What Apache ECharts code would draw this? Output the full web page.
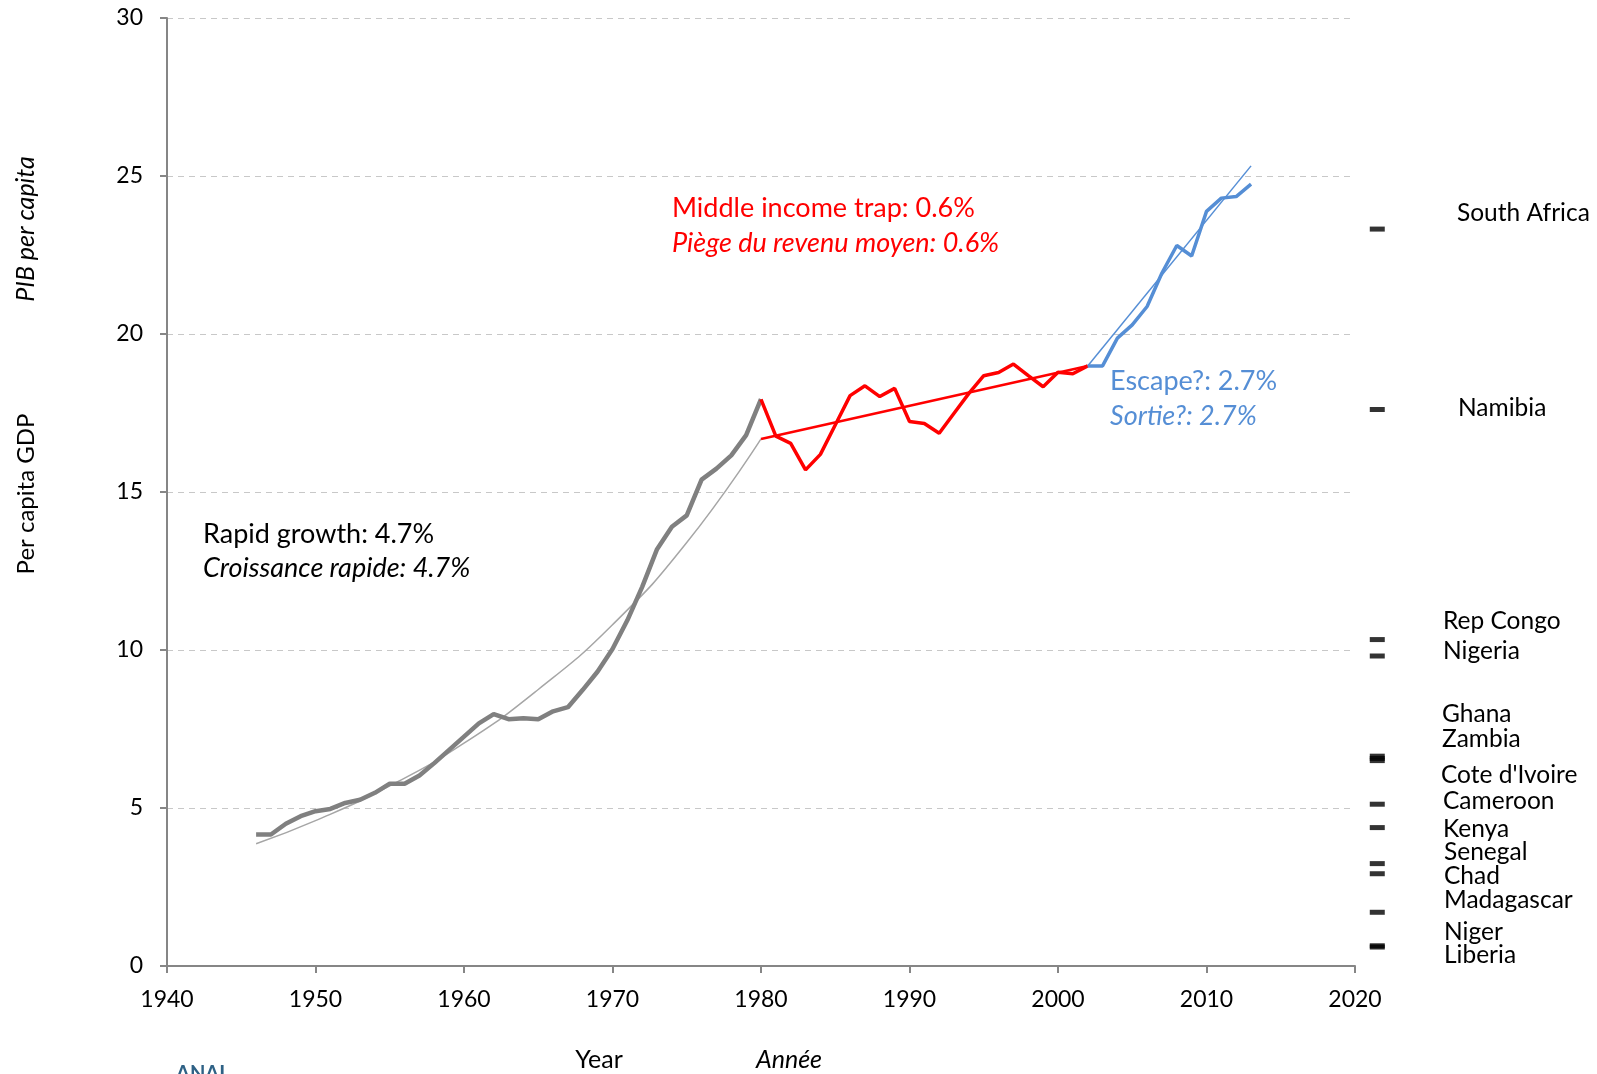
<!DOCTYPE html>
<html>
<head>
<meta charset="utf-8">
<script src="https://cdn.jsdelivr.net/npm/echarts@6/dist/echarts.min.js"></script>
<style>
  html, body { margin: 0; padding: 0; background: #fff; }
  #chartdiv { width: 1597px; height: 1074px; }
</style>
</head>
<body>
<div id="chartdiv"></div>
<script>
// rapid growth phase
var yearsRapid = [1946, 1947, 1948, 1949, 1950, 1951, 1952, 1953, 1954, 1955, 1956, 1957, 1958, 1959,
    1960, 1961, 1962, 1963, 1964, 1965, 1966, 1967, 1968, 1969, 1970, 1971, 1972, 1973, 1974, 1975,
    1976, 1977, 1978, 1979, 1980];
var gdpRapid = [4.16, 4.16, 4.5, 4.74, 4.9, 4.97, 5.16, 5.26, 5.48, 5.77, 5.77, 6.03, 6.42, 6.84,
    7.26, 7.68, 7.97, 7.81, 7.84, 7.81, 8.06, 8.19, 8.74, 9.32, 10.03, 10.94, 12.0, 13.19, 13.9, 14.26,
    15.39, 15.74, 16.16, 16.8, 17.94];

// middle income trap
var yearsTrap = [1980, 1981, 1982, 1983, 1984, 1985, 1986, 1987, 1988, 1989, 1990, 1991, 1992,
    1993, 1994, 1995, 1996, 1997, 1998, 1999, 2000, 2001, 2002];
var gdpTrap = [17.93, 16.77, 16.54, 15.7, 16.19, 17.12, 18.05, 18.36, 18.02, 18.28, 17.23, 17.17, 16.86,
    17.49, 18.12, 18.68, 18.78, 19.05, 18.68, 18.33, 18.79, 18.74, 18.99];

// escape
var yearsEscape = [2002, 2003, 2004, 2005, 2006, 2007, 2008, 2009, 2010, 2011, 2012, 2013];
var gdpEscape = [18.99, 18.99, 19.87, 20.29, 20.87, 21.93, 22.8, 22.47, 23.88, 24.3, 24.35, 24.74];

// trend lines
var trendRapidYears = [1946, 1950, 1955, 1960, 1965, 1970, 1975, 1980];
var trendRapidGdp = [3.87, 4.6, 5.7, 7.05, 8.75, 10.8, 13.4, 16.68];
var trendTrapYears = [1980, 2002];
var trendTrapGdp = [16.68, 18.99];
var trendEscapeYears = [2002, 2013];
var trendEscapeGdp = [18.99, 25.32];

// comparison countries (dashes right of the plot)
var countries = ['South Africa', 'Namibia', 'Rep Congo', 'Nigeria', 'Ghana', 'Zambia', "Cote d'Ivoire",
    'Cameroon', 'Kenya', 'Senegal', 'Chad', 'Madagascar', 'Niger', 'Liberia'];
var countryGdp = [23.32, 17.61, 10.33, 9.81, 6.64, 6.5, 6.57, 5.12, 4.38, 3.24, 2.92, 1.7, 0.64, 0.6];
var markerYear = 2021.5;

// label layout (pixels)
var countryLabelX = [1457, 1458, 1443, 1443, 1442, 1442, 1441, 1443, 1443, 1444, 1444, 1444, 1444, 1444];
var countryLabelY = [213, 408, 621, 651, 714, 739, 775, 801, 829, 852, 876, 900, 932, 955];

var FONT = 'Lato, "Open Sans", sans-serif';

function pairs(xs, ys) {
    var out = [];
    for (var i = 0; i < xs.length; i++) {
        out.push([xs[i], ys[i]]);
    }
    return out;
}

function txt(x, y, text, color, italic, size, align) {
    return {
        type: 'text',
        x: x,
        y: y,
        style: {
            text: text,
            fill: color,
            font: (italic ? 'italic ' : '') + size + 'px ' + FONT,
            align: align || 'left',
            verticalAlign: 'middle'
        }
    };
}

var dom = document.getElementById("chartdiv");
var myChart = echarts.init(dom);

var graphics = [];
for (var i = 0; i < countries.length; i++) {
    graphics.push(txt(countryLabelX[i], countryLabelY[i], countries[i], '#000', false, 24.5));
}
graphics.push(txt(672, 208, 'Middle income trap: 0.6%', '#ff0000', false, 27));
graphics.push(txt(672, 243, 'Piège du revenu moyen: 0.6%', '#ff0000', true, 27));
graphics.push(txt(1110, 381, 'Escape?: 2.7%', '#558ed5', false, 27));
graphics.push(txt(1110, 416, 'Sortie?: 2.7%', '#558ed5', true, 27));
graphics.push(txt(203, 534, 'Rapid growth: 4.7%', '#000', false, 27));
graphics.push(txt(203, 568, 'Croissance rapide: 4.7%', '#000', true, 27));
graphics.push(txt(599, 1060, 'Year', '#000', false, 25, 'center'));
graphics.push(txt(789, 1060, 'Année', '#000', true, 25, 'center'));
// rotated axis titles
graphics.push({
    type: 'text', x: 26, y: 494, rotation: Math.PI / 2,
    style: {text: 'Per capita GDP', fill: '#000', font: '24px ' + FONT, align: 'center', verticalAlign: 'middle'}
});
graphics.push({
    type: 'text', x: 26, y: 229, rotation: Math.PI / 2,
    style: {text: 'PIB per capita', fill: '#000', font: 'italic 25px ' + FONT, align: 'center', verticalAlign: 'middle'}
});
// cut-off logo at the bottom edge
graphics.push({
    type: 'text', x: 176, y: 1064,
    style: {text: 'ANAI', fill: '#2e6185', font: 'bold 20px ' + FONT, align: 'left', verticalAlign: 'top'}
});

var option = {
    backgroundColor: '#fff',
    animation: false,
    grid: {
        left: 167,
        right: 242,
        top: 18,
        bottom: 108,
        containLabel: false
    },
    xAxis: {
        type: 'value',
        min: 1940,
        max: 2020,
        interval: 10,
        axisLine: {show: true, lineStyle: {color: '#868686', width: 2}},
        axisTick: {show: true, length: 7, lineStyle: {color: '#868686', width: 2}},
        axisLabel: {
            color: '#000', fontSize: 23, fontFamily: FONT, margin: 22,
            formatter: function (v) { return String(v); }
        },
        splitLine: {show: false}
    },
    yAxis: {
        type: 'value',
        min: 0,
        max: 30,
        interval: 5,
        axisLine: {show: true, lineStyle: {color: '#868686', width: 2}},
        axisTick: {show: true, length: 7, lineStyle: {color: '#868686', width: 2}},
        axisLabel: {color: '#000', fontSize: 23, fontFamily: FONT, margin: 24},
        splitLine: {show: true, lineStyle: {color: '#c8c8c8', width: 1, type: [6, 5]}}
    },
    series: [
        {
            type: 'line', data: pairs(trendRapidYears, trendRapidGdp), smooth: true,
            showSymbol: false, lineStyle: {color: '#a6a6a6', width: 1.5}, z: 2
        },
        {
            type: 'line', data: pairs(yearsRapid, gdpRapid), showSymbol: false,
            lineStyle: {color: '#808080', width: 4.5}, z: 3
        },
        {
            type: 'line', data: pairs(trendTrapYears, trendTrapGdp), showSymbol: false,
            lineStyle: {color: '#ff0000', width: 2.5}, z: 3
        },
        {
            type: 'line', data: pairs(yearsTrap, gdpTrap), showSymbol: false,
            lineStyle: {color: '#ff0000', width: 3.5}, z: 4
        },
        {
            type: 'line', data: pairs(trendEscapeYears, trendEscapeGdp), showSymbol: false,
            lineStyle: {color: '#558ed5', width: 1.5}, z: 3
        },
        {
            type: 'line', data: pairs(yearsEscape, gdpEscape), showSymbol: false,
            lineStyle: {color: '#558ed5', width: 3.5}, z: 4
        },
        {
            type: 'scatter',
            clip: false,
            symbol: 'rect',
            symbolSize: [15, 5],
            itemStyle: {color: '#000'},
            data: countryGdp.map(function (v) { return [markerYear, v]; }),
            z: 5
        }
    ],
    graphic: graphics
};

myChart.setOption(option);
</script>
</body>
</html>
